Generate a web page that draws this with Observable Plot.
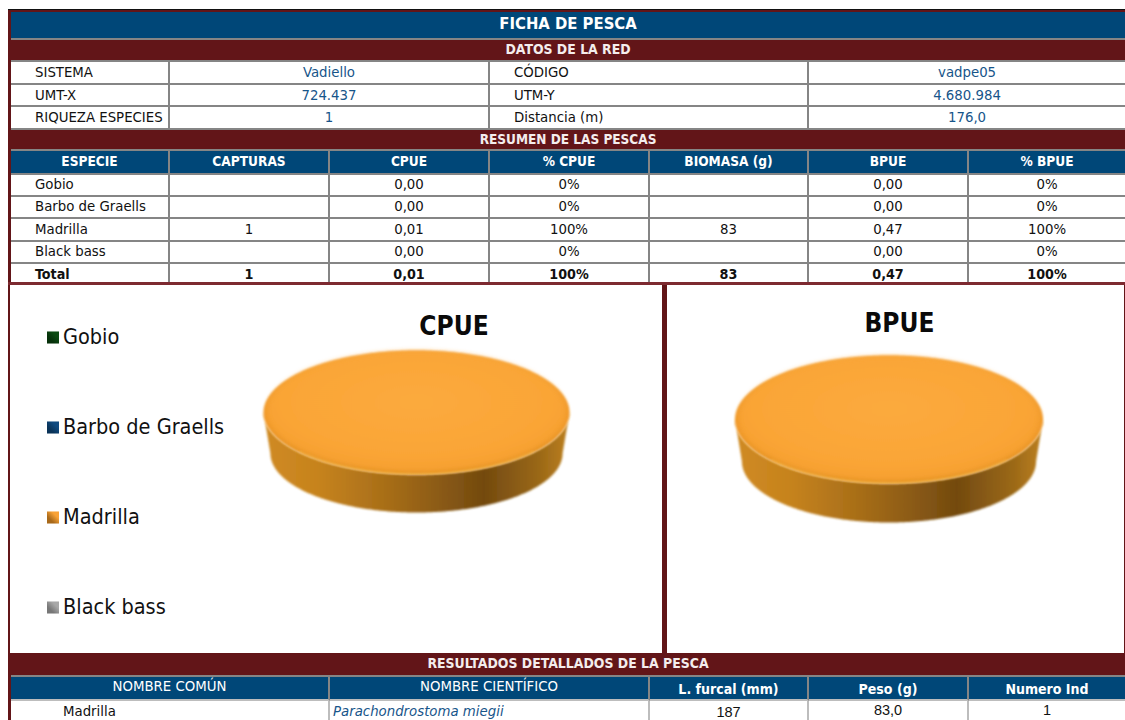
<!DOCTYPE html>
<html lang="es">
<head>
<meta charset="utf-8">
<title>Ficha de pesca</title>
<script src="https://cdn.jsdelivr.net/npm/d3@7"></script>
<script src="https://cdn.jsdelivr.net/npm/@observablehq/plot@0.6"></script>
<style>
  html, body { margin: 0; padding: 0; background: #fff; width: 1125px; height: 720px; overflow: hidden; }
  body { font-family: "DejaVu Sans Condensed", Tahoma, "DejaVu Sans", sans-serif; font-stretch: condensed; color: #111; }
  #frame { position: absolute; left: 8px; top: 9px; width: 1117px; height: 711px; background: #621518; border-top: 1px solid #111; box-sizing: border-box; overflow: hidden; }
  table { position: absolute; border-collapse: separate; border-spacing: 0; table-layout: fixed; width: 1114px; font-size: 14.8px; }
  #top { left: 11px; top: 12px; }
  #bottom { left: 11px; top: 653px; }
  td { padding: 0; overflow: hidden; white-space: nowrap; text-align: center; vertical-align: middle; line-height: 1; background: #fff; border-bottom: 2px solid #858585; border-right: 2px solid #858585; box-sizing: border-box; }
  td:last-child { border-right: 0; }
  td.title { background: #004778; color: #fff; font-weight: 700; font-size: 16.5px; border-right: 0; padding-bottom: 2px; }
  td.section { background: #621518; color: #f4eded; font-weight: 700; font-size: 13.9px; border-right: 0; }
  td.tight { font-size: 13.5px; }
  td.head { background: #004778; color: #fff; font-weight: 700; font-size: 13.6px; }
  td.label { text-align: left; padding-left: 24px; }
  td.value { color: #17558a; }
  tr.total td { font-weight: 700; border-bottom: 0; font-size: 14.2px; padding-top: 2px; }
  #bottom td.head { font-size: 14px; padding-top: 1px; }
  #bottom td.head.plain { font-weight: 400; font-size: 14.8px; padding-top: 0; padding-bottom: 3px; }
  #bottom tr.detail td { border-bottom: 0; border-right-color: #bdbdbd; padding-top: 1px; }
  #bottom tr.headrow td { border-bottom-color: #bdbdbd; }
  #bottom td.common { padding-left: 0; text-align: left; text-indent: 52px; }
  #bottom td.sci { color: #17558a; font-style: italic; text-align: left; padding-left: 3px; }
  #bottom td.num { font-family: "Liberation Sans", Arial, sans-serif; font-size: 14.5px; padding-top: 0; padding-bottom: 2px; }
  #bottom td.num.low { padding-top: 3px; padding-bottom: 0; }
  .panel { position: absolute; background: #fff; top: 285px; height: 368px; }
  #panelA { left: 10px; width: 652px; }
  #panelB { left: 667px; width: 457px; }
  .panel svg { position: absolute; left: 0; top: 0; overflow: visible; background: transparent; }
  #rule { position: absolute; left: 8px; top: 282px; width: 1117px; height: 3px; background: #7d2a30; }
</style>
</head>
<body>
<div id="frame"></div>
<div id="rule"></div>
<table id="top"></table>
<div class="panel" id="panelA"></div>
<div class="panel" id="panelB"></div>
<table id="bottom"></table>
<script>
// ---- Data ----
const species = ["Gobio", "Barbo de Graells", "Madrilla", "Black bass"];
const capturas = ["", "", "1", ""];
const cpue = [0, 0, 0.01, 0];
const pctCpue = ["0%", "0%", "100%", "0%"];
const biomasa = ["", "", "83", ""];
const bpue = [0, 0, 0.47, 0];
const pctBpue = ["0%", "0%", "100%", "0%"];
const summaryHeaders = ["ESPECIE", "CAPTURAS", "CPUE", "% CPUE", "BIOMASA (g)", "BPUE", "% BPUE"];
const totalRow = ["Total", "1", "0,01", "100%", "83", "0,47", "100%"];
const netLabels = [["SISTEMA", "Vadiello", "CÓDIGO", "vadpe05"],
                   ["UMT-X", "724.437", "UTM-Y", "4.680.984"],
                   ["RIQUEZA ESPECIES", "1", "Distancia (m)", "176,0"]];
const detailHeaders = ["NOMBRE COMÚN", "NOMBRE CIENTÍFICO", "L. furcal (mm)", "Peso (g)", "Numero Ind"];
const detailRow = ["Madrilla", "Parachondrostoma miegii", "187", "83,0", "1"];
const speciesColors = ["#0c4a12", "#0f4a80", "#f9a236", "#a8a8a8"];
const speciesShades = ["#06300a", "#0a3358", "#a8691a", "#777777"];

const fmt = d3.format(".2f");
const comma = v => fmt(v).replace(".", ",");
const chartFont = '"DejaVu Sans Condensed", Tahoma, "DejaVu Sans", sans-serif';

// ---- Tables ----
const colWidths = [159, 160, 160, 160, 159, 160, 156];
function addCols(table) {
  const cg = table.append("colgroup");
  colWidths.forEach(w => cg.append("col").style("width", w + "px"));
}
function addRow(table, h, cells, cls) {
  const tr = table.append("tr").style("height", h + "px").attr("class", cls || null);
  cells.forEach(c => {
    tr.append("td").attr("colspan", c.span || 1).attr("class", c.cls || null).text(c.text);
  });
}
const topTable = d3.select("#top");
addCols(topTable);
addRow(topTable, 28, [{text: "FICHA DE PESCA", span: 7, cls: "title"}]);
addRow(topTable, 22, [{text: "DATOS DE LA RED", span: 7, cls: "section"}]);
const netHeights = [23, 22, 22.5];
netLabels.forEach((r, i) => addRow(topTable, netHeights[i], [
  {text: r[0], cls: "label"}, {text: r[1], span: 2, cls: "value"},
  {text: r[2], span: 2, cls: "label"}, {text: r[3], span: 2, cls: "value"}]));
addRow(topTable, 21.5, [{text: "RESUMEN DE LAS PESCAS", span: 7, cls: "section tight"}]);
addRow(topTable, 24, summaryHeaders.map(t => ({text: t, cls: "head"})));
const sumHeights = [21.5, 22, 23, 22];
species.forEach((s, i) => addRow(topTable, sumHeights[i], [
  {text: s, cls: "label"}, {text: capturas[i]}, {text: comma(cpue[i])}, {text: pctCpue[i]},
  {text: biomasa[i]}, {text: comma(bpue[i])}, {text: pctBpue[i]}]));
addRow(topTable, 18.5, totalRow.map((t, i) => ({text: t, cls: i === 0 ? "label" : null})), "total");

const bottomTable = d3.select("#bottom");
addCols(bottomTable);
addRow(bottomTable, 24, [{text: "RESULTADOS DETALLADOS DE LA PESCA", span: 7, cls: "section"}]);
addRow(bottomTable, 24, [
  {text: detailHeaders[0], span: 2, cls: "head plain"}, {text: detailHeaders[1], span: 2, cls: "head plain"},
  {text: detailHeaders[2], cls: "head"}, {text: detailHeaders[3], cls: "head"}, {text: detailHeaders[4], cls: "head"}], "headrow");
addRow(bottomTable, 19, [
  {text: detailRow[0], span: 2, cls: "common"}, {text: detailRow[1], span: 2, cls: "sci"},
  {text: detailRow[2], cls: "num low"}, {text: detailRow[3], cls: "num"}, {text: detailRow[4], cls: "num"}], "detail");

// ---- Pie: slices come from d3.pie, drawn through Plot's x and y scales ----
function sliceGeometry(values) {
  const arcs = d3.pie().sort(null)(values);
  return arcs.filter(a => a.endAngle > a.startAngle).map(a => ({...a, species: species[a.index]}));
}
function outline(slice, k, shift) {
  const n = Math.max(2, Math.round((slice.endAngle - slice.startAngle) * 90));
  return d3.range(n + 1).map(i => {
    const t = slice.startAngle + (slice.endAngle - slice.startAngle) * i / n;
    return {slice: slice.index, x: k * Math.sin(t), y: k * Math.cos(t) * -1 + shift};
  });
}
function wall(slice, depth, taper) {
  // the part of the rim that faces the viewer, narrowing slightly towards its lower edge
  const from = Math.max(slice.startAngle, Math.PI / 2), to = Math.min(slice.endAngle, Math.PI * 1.5);
  if (to <= from) return [];
  const part = {...slice, startAngle: from, endAngle: to};
  const front = outline(part, 1, 0);
  const back = outline(part, taper, depth + 1 - taper).reverse();
  return front.concat(back);
}
function frontArc(slice) {
  const from = Math.max(slice.startAngle, Math.PI * 0.72), to = Math.min(slice.endAngle, Math.PI * 1.28);
  return to > from ? outline({...slice, startAngle: from, endAngle: to}, 0.985, 0) : [];
}
function defs(id) {
  return () => {
    const g = document.createElementNS("http://www.w3.org/2000/svg", "g");
    g.innerHTML = `<defs>
      <linearGradient id="${id}wall" x1="0" x2="1" y1="0" y2="0">
        <stop offset="0" stop-color="#d08a22"/><stop offset=".18" stop-color="#c6831e"/>
        <stop offset=".42" stop-color="#a56c18"/><stop offset=".72" stop-color="#734a10"/>
        <stop offset=".9" stop-color="#9a6817"/><stop offset="1" stop-color="#bd8020"/>
      </linearGradient>
      <linearGradient id="${id}rim" x1="0" x2="0" y1="0" y2="1">
        <stop offset="0" stop-color="#f5a63c"/><stop offset=".55" stop-color="#f0992a"/>
        <stop offset="1" stop-color="#dc8d1e"/>
      </linearGradient>
      <radialGradient id="${id}face" cx=".5" cy=".42" r=".6">
        <stop offset="0" stop-color="#fbaa3e"/><stop offset=".75" stop-color="#faa536"/>
        <stop offset="1" stop-color="#f59e2e"/>
      </radialGradient>
      <filter id="${id}soft" x="-5%" y="-5%" width="110%" height="110%"><feGaussianBlur stdDeviation="0.8"/></filter>
      <filter id="${id}softer" x="-5%" y="-5%" width="110%" height="110%"><feGaussianBlur stdDeviation="2.5"/></filter>
    </defs>`;
    return g;
  };
}
// the mark's "filter" option is Plot's data filter, so the SVG blur is set on the rendered group
const blurred = ref => (index, scales, values, dims, ctx, next) => {
  const g = next(index, scales, values, dims, ctx);
  g.setAttribute("filter", `url(#${ref})`);
  return g;
};
function piePlot({target, id, values, title, cx, cy, rx, ry, depthPx, titleX, titleY}) {
  const slices = sliceGeometry(values);
  const depth = depthPx / ry;
  const layer = f => slices.flatMap(f);
  const line = (data, opts) => Plot.line(data, {x: "x", y: "y", z: "slice", curve: "linear", ...opts});
  const box = target.getBoundingClientRect();
  const plot = Plot.plot({
    width: box.width, height: box.height,
    marginTop: 0, marginRight: 0, marginBottom: 0, marginLeft: 0,
    style: {background: "transparent", overflow: "visible", fontFamily: chartFont},
    x: {domain: [-1, 1], range: [cx - rx, cx + rx], axis: null},
    y: {domain: [-1, 1], range: [cy - ry, cy + ry], axis: null},
    marks: [
      defs(id),
      line(layer(s => wall(s, depth, 0.955)), {fill: `url(#${id}wall)`, stroke: "none", render: blurred(id + "soft")}),
      line(layer(s => outline(s, 1, 0)), {fill: `url(#${id}rim)`, stroke: "none", render: blurred(id + "soft")}),
      line(layer(frontArc), {stroke: "#f8c24a", strokeWidth: 1.3, strokeOpacity: 0.75, render: blurred(id + "soft")}),
      line(layer(s => outline(s, 0.975, -0.01)), {fill: `url(#${id}face)`, stroke: "none", render: blurred(id + "softer")}),
      Plot.text([title], {
        x: () => titleX, y: () => titleY, text: d => d,
        fontSize: 26, fontWeight: 700, fill: "#0a0a0a", lineAnchor: "middle", textAnchor: "middle"
      })
    ]
  });
  target.appendChild(plot);
}
function legendPlot(target) {
  const plot = Plot.plot({
    width: 260, height: 368,
    marginTop: 0, marginRight: 0, marginBottom: 0, marginLeft: 0,
    style: {background: "transparent", overflow: "visible", fontFamily: chartFont},
    x: {axis: null, domain: [0, 1], range: [0, 260]},
    y: {type: "point", domain: species, range: [52, 322], padding: 0, axis: null},
    marks: [
      () => {
        const g = document.createElementNS("http://www.w3.org/2000/svg", "g");
        g.innerHTML = "<defs>" + species.map((s, i) =>
          `<linearGradient id="sw${i}" x1="0" y1="1" x2="1" y2="0">
             <stop offset=".3" stop-color="${speciesShades[i]}"/><stop offset=".7" stop-color="${speciesColors[i]}"/>
           </linearGradient>`).join("") + "</defs>";
        return g;
      },
      Plot.dot(species, {y: d => d, frameAnchor: "left", dx: 42.5, r: 6.8, symbol: "square",
        fill: (d, i) => `url(#sw${i})`, stroke: "none"}),
      Plot.text(species, {y: d => d, frameAnchor: "left", dx: 52.5, text: d => d, textAnchor: "start",
        fontSize: 21.5, fill: "#111", lineAnchor: "middle"})
    ]
  });
  target.appendChild(plot);
}

const panelA = document.getElementById("panelA");
const panelB = document.getElementById("panelB");
legendPlot(panelA);
piePlot({target: panelA, id: "a", values: cpue, title: "CPUE", cx: 406, cy: 127, rx: 153, ry: 62, depthPx: 38, titleX: 0.245, titleY: -1.39});
piePlot({target: panelB, id: "b", values: bpue, title: "BPUE", cx: 221.5, cy: 134, rx: 154, ry: 64, depthPx: 39, titleX: 0.068, titleY: -1.49});
</script>
</body>
</html>
